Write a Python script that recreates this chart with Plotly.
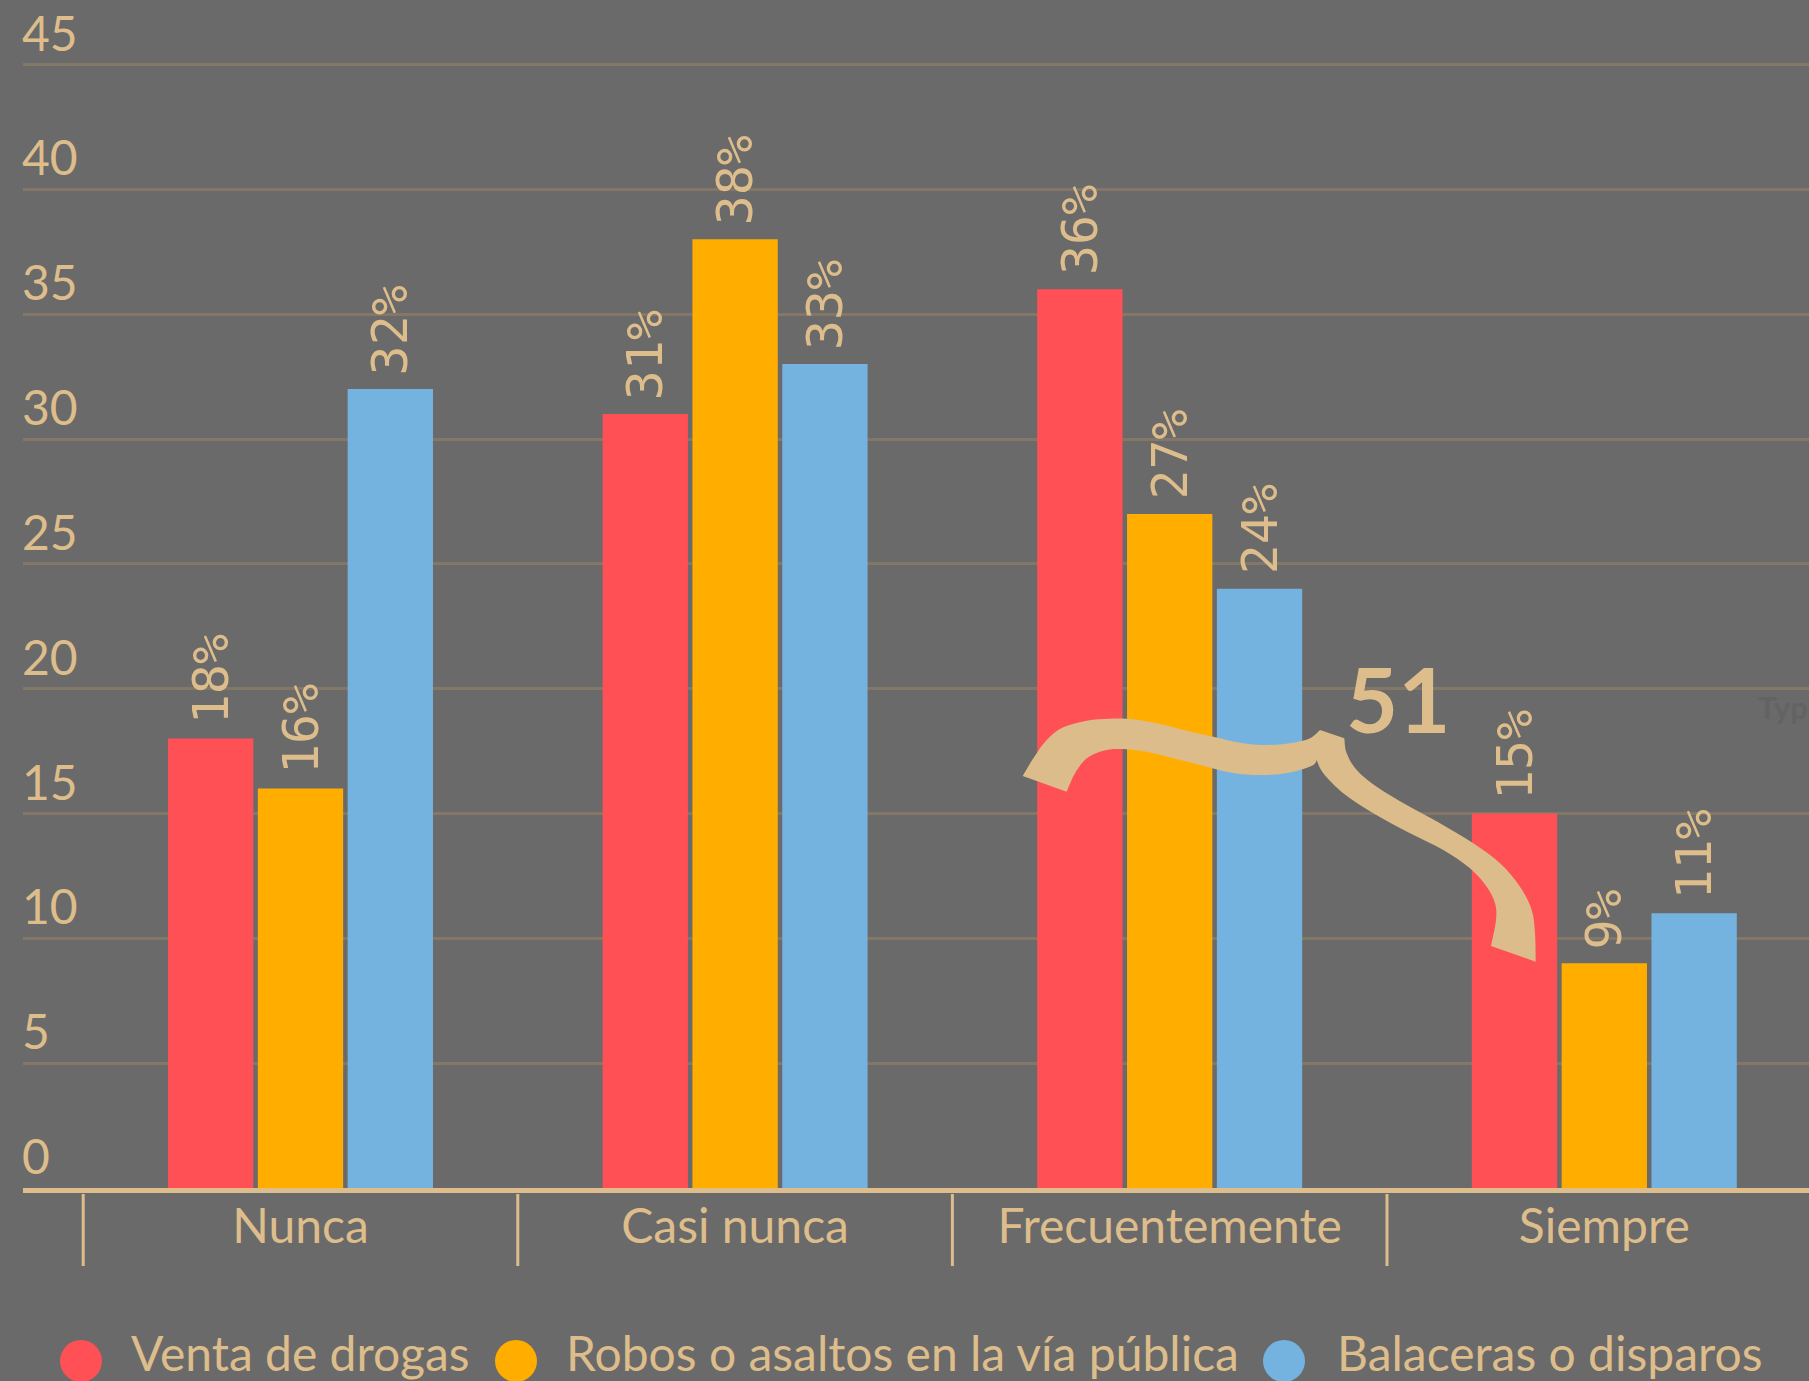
import plotly.graph_objects as go

categories = ["Nunca", "Casi nunca", "Frecuentemente", "Siempre"]
series_names = ["Venta de drogas", "Robos o asaltos en la vía pública", "Balaceras o disparos"]
venta = [18, 31, 36, 15]
robos = [16, 38, 27, 9]
balaceras = [32, 33, 24, 11]
series_values = [venta, robos, balaceras]
y_ticks = [0, 5, 10, 15, 20, 25, 30, 35, 40, 45]
callout_text = "51"

BG = "#6a6a6a"
TAN = "#ddbd8b"
GRID = "#837868"
COLORS = ["#ff5056", "#ffae00", "#74b3e0"]

W, H = 1809, 1381
L, R, T, B = 23, 0, 62, 193
PW, PH = W - L - R, H - T - B
Y_MAX = 45.1
BARGAP, BARGROUPGAP = 0.38, 0.05
SLOT = (1 - BARGAP) / len(series_values)


def to_paper(px, py):
    return ((px - L) / PW, (T + PH - py) / PH)


fig = go.Figure()
for name, vals, col in zip(series_names, series_values, COLORS):
    fig.add_trace(go.Bar(x=categories, y=vals, name=name, marker_color=col,
                         marker_line_width=0, showlegend=False))

# value labels above bars
for j, vals in enumerate(series_values):
    for i, v in enumerate(vals):
        fig.add_annotation(x=i + (j - 1) * SLOT, y=v, xref="x", yref="y",
                           text=f"{v}%", textangle=-90, showarrow=False,
                           xanchor="center", yanchor="bottom", yshift=12,
                           font=dict(family="DejaVu Sans Mono", size=50, color=TAN))

# y tick labels sitting above their grid lines
for t in y_ticks:
    fig.add_annotation(x=0, y=t, xref="paper", yref="y", text=str(t), showarrow=False,
                       xanchor="left", yanchor="bottom", xshift=-3, yshift=2,
                       font=dict(family="Lato", size=48, color=TAN))

# category boundary ticks
for k in range(len(categories)):
    fig.add_shape(type="line", xref="x", yref="paper", x0=k - 0.5, x1=k - 0.5,
                  y0=-6 / PH, y1=-78 / PH, line=dict(color=TAN, width=3))

# legend (circles + text)
legend_items = [(81, 129), (516, 564), (1284, 1335)]
for (cx, tx), name, col in zip(legend_items, series_names, COLORS):
    px_, py_ = to_paper(cx, 1361)
    fig.add_shape(type="circle", xref="paper", yref="paper", xsizemode="pixel",
                  ysizemode="pixel", xanchor=px_, yanchor=py_, x0=-21, x1=21, y0=-21, y1=21,
                  fillcolor=col, line_width=0)
    ax, ay = to_paper(tx, 1352)
    fig.add_annotation(x=ax, y=ay, xref="paper", yref="paper", text=name, showarrow=False,
                       xanchor="left", yanchor="middle",
                       font=dict(family="Lato", size=48, color=TAN))

# curved callout arrow (decorative), outline traced in pixel space
segs = [
    [(1022.7, 776), (1033.3, 758.3), (1046.7, 740), (1063.3, 727.3), (1086.7, 720.7),
     (1110, 718.7), (1133.3, 719.3), (1160, 724), (1186.7, 730.7), (1213.3, 736.7),
     (1240, 742.7), (1266.7, 745), (1293.3, 742.7), (1310, 738.3), (1320, 730)],
    [(1344.3, 738.3), (1346.7, 753.3), (1356.7, 770), (1376.7, 786.7), (1406.7, 805),
     (1440, 823.3), (1473.3, 843.3), (1500, 863.3), (1520, 886.7), (1531.7, 910),
     (1535, 933.3), (1535.7, 961.7)],
    [(1491, 946), (1496, 920), (1495, 903.3), (1486.7, 886.7), (1470, 868.3),
     (1443.3, 850), (1410, 833.3), (1373.3, 813.3), (1343.3, 793.3), (1323.3, 773.3),
     (1316.7, 760)],
    [(1316.7, 760), (1313.3, 765), (1300, 770), (1280, 774), (1253.3, 775),
     (1226.7, 771.7), (1200, 765), (1173.3, 758.3), (1146.7, 751.7), (1120, 749),
     (1103.3, 750.7), (1086.7, 758.3), (1075, 773.3), (1066.7, 791.7)],
]


def fmt(p):
    x, y = to_paper(*p)
    return f"{x:.5f},{y:.5f}"


def catmull(points):
    out = []
    n = len(points)
    for k in range(n - 1):
        p0 = points[k - 1] if k > 0 else points[k]
        p1 = points[k]
        p2 = points[k + 1]
        p3 = points[k + 2] if k + 2 < n else points[k + 1]
        c1 = (p1[0] + (p2[0] - p0[0]) / 6, p1[1] + (p2[1] - p0[1]) / 6)
        c2 = (p2[0] - (p3[0] - p1[0]) / 6, p2[1] - (p3[1] - p1[1]) / 6)
        out.append(f"C {fmt(c1)} {fmt(c2)} {fmt(p2)}")
    return out


path = [f"M {fmt(segs[0][0])}"]
for si, s in enumerate(segs):
    if si > 0:
        path.append(f"L {fmt(s[0])}")
    path += catmull(s)
path.append("Z")
fig.add_shape(type="path", xref="paper", yref="paper", path=" ".join(path),
              fillcolor="#dcbc8a", line_width=0, layer="above")

nx, ny = to_paper(1398, 698)
fig.add_annotation(x=nx, y=ny, xref="paper", yref="paper", text=f"<b>{callout_text}</b>",
                   showarrow=False, xanchor="center", yanchor="middle",
                   font=dict(family="Lato", size=90, color=TAN))

wx, wy = to_paper(1756, 707)
fig.add_annotation(x=wx, y=wy, xref="paper", yref="paper", text="<b>Typ</b>",
                   showarrow=False, xanchor="left", yanchor="middle",
                   font=dict(family="Lato", size=31, color="#636363"))

x0 = 300.5
step = 434.6
fig.update_layout(
    width=W, height=H,
    margin=dict(l=L, r=R, t=T, b=B, pad=0),
    paper_bgcolor=BG, plot_bgcolor=BG,
    barmode="group", bargap=BARGAP, bargroupgap=BARGROUPGAP,
    showlegend=False,
    xaxis=dict(type="category", range=[(L - x0) / step, (W - x0) / step],
               showline=True, linecolor=TAN, linewidth=5, ticks="", showgrid=False,
               ticklabelstandoff=-8,
               tickfont=dict(family="Lato", size=48, color=TAN), zeroline=False),
    yaxis=dict(range=[0, Y_MAX], tickvals=y_ticks, showgrid=True, gridcolor=GRID, gridwidth=3,
               zeroline=False, ticks="", showticklabels=False, showline=False),
)

fig.write_html("out.html", config={"displayModeBar": False},
               post_script="document.body.style.margin='0';")
